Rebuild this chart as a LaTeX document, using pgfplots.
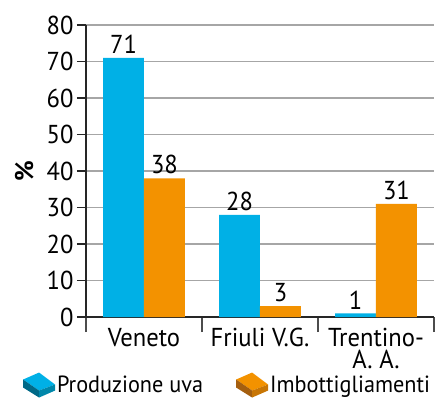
\documentclass[border=0pt]{standalone}
\usepackage{fontspec}
\setmainfont[FakeStretch=0.95]{PT Sans}
\usepackage{pgfplots}
\pgfplotsset{compat=1.18}
\definecolor{cblue}{RGB}{0,176,230}
\definecolor{cbluedark}{RGB}{0,105,135}
\definecolor{cbluemid}{RGB}{0,135,170}
\definecolor{corange}{RGB}{243,146,0}
\definecolor{corangedark}{RGB}{165,95,15}
\definecolor{corangemid}{RGB}{200,118,5}
\newcommand{\cf}{\fontsize{26}{22}\selectfont}
\newcommand{\lf}{\fontsize{23.5}{24}\selectfont}
\begin{document}
\begin{tikzpicture}
\begin{axis}[name=ax, scale only axis, width=348bp, height=292bp,
  xmin=-0.5, xmax=2.5, ymin=0, ymax=80,
  axis x line=bottom, axis y line=left,
  axis line style={-, line width=1.2bp, black!85},
  ytick={0,10,...,80}, ymajorgrids,
  grid style={black!35, line width=1.2bp},
  xtick={0,1,2},
  xticklabels={Veneto, Friuli V.G., {Trentino-\\A.~A.}},
  xticklabel style={align=center, font=\cf, yshift=1bp},
  major x tick style={draw=none},
  minor xtick={-0.5,0.5,1.5,2.5},
  minor tick length=15bp,
  minor x tick style={line width=1.2bp, black!70},
  major tick length=9bp,
  major y tick style={line width=1.2bp, black!85},
  tick align=outside,
  tick label style={font=\cf},
  /pgf/number format/assume math mode=true,
  ylabel={\textbf{\%}},
  ylabel style={at={(axis description cs:-0.177,0.5)}, anchor=center, font=\cf},
  ybar=0pt, bar width=0.353,
  nodes near coords,
  every node near coord/.append style={font=\cf, black, /pgf/number format/assume math mode=true, inner sep=4bp},
  legend style={at={(axis description cs:-0.19,-0.233)}, anchor=west, draw=none, fill=none,
    font=\lf, /tikz/every even column/.append style={column sep=31bp}},
  legend columns=2, legend cell align=left,
]
\addplot[fill=cblue, draw=none,
  legend image code/.code={
    \fill[cblue] (0bp,5bp)--(16bp,12bp)--(32bp,0bp)--(16bp,-6bp)--cycle;
    \fill[cbluedark] (0bp,5bp)--(16bp,-6bp)--(16bp,-13bp)--(0bp,-3bp)--cycle;
    \fill[cbluemid] (16bp,-6bp)--(32bp,0bp)--(32bp,-6bp)--(16bp,-13bp)--cycle;
  }] coordinates {(0,71) (1,28) (2,1)};
\addlegendentry{Produzione uva}
\addplot[fill=corange, draw=none,
  legend image code/.code={
    \fill[corange] (0bp,5bp)--(16bp,12bp)--(32bp,0bp)--(16bp,-6bp)--cycle;
    \fill[corangedark] (0bp,5bp)--(16bp,-6bp)--(16bp,-13bp)--(0bp,-3bp)--cycle;
    \fill[corangemid] (16bp,-6bp)--(32bp,0bp)--(32bp,-6bp)--(16bp,-13bp)--cycle;
  }] coordinates {(0,38) (1,3) (2,31)};
\addlegendentry{Imbottigliamenti}
\end{axis}
\pgfresetboundingbox
\path[use as bounding box] ([shift={(-86bp,-83bp)}]ax.south west) rectangle ([shift={(349bp,317bp)}]ax.south west);
\end{tikzpicture}
\end{document}
